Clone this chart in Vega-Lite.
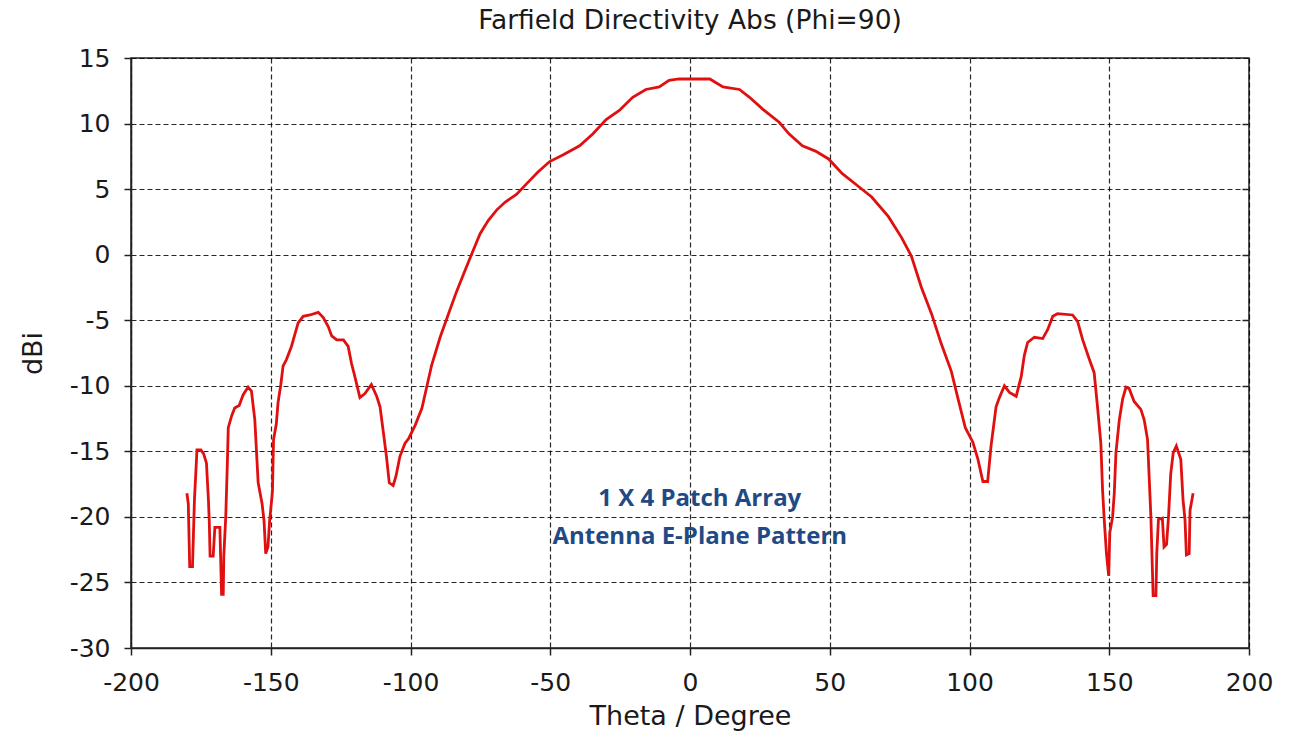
{
  "$schema": "https://vega.github.io/schema/vega-lite/v6.json",
  "width": 1118,
  "height": 590,
  "autosize": {"type": "none"},
  "padding": {"left": 131, "top": 58, "right": 40, "bottom": 88},
  "background": "white",
  "title": {
    "text": "Farfield Directivity Abs (Phi=90)",
    "font": "DejaVu Sans",
    "fontSize": 26.5,
    "fontWeight": "normal",
    "color": "#1a1a1a",
    "offset": 12,
    "anchor": "middle"
  },
  "config": {
    "view": {"stroke": "#222222", "strokeWidth": 1.5},
    "axis": {
      "labelFont": "DejaVu Sans",
      "labelFontSize": 25,
      "labelColor": "#1a1a1a",
      "titleFont": "DejaVu Sans",
      "titleFontSize": 27,
      "titleFontWeight": "normal",
      "titleColor": "#1a1a1a",
      "domainColor": "#222222",
      "domainWidth": 1.5,
      "tickColor": "#222222",
      "tickSize": 7,
      "tickWidth": 1.5,
      "gridColor": "#000000",
      "gridDash": [5, 3],
      "gridWidth": 1.2,
      "gridOpacity": 0.85,
      "labelExpr": "'' + datum.value"
    }
  },
  "resolve": {"axis": {"y": "independent"}, "scale": {"y": "shared"}},
  "datasets": {
    "pattern": [
      {"theta": -180, "dbi": -18.2}, {"theta": -179.5, "dbi": -19}, {"theta": -179, "dbi": -23.8}, {"theta": -178, "dbi": -23.8},
      {"theta": -177.3, "dbi": -18.7}, {"theta": -176.4, "dbi": -14.9}, {"theta": -175, "dbi": -14.9}, {"theta": -174, "dbi": -15.2},
      {"theta": -173, "dbi": -15.9}, {"theta": -172.3, "dbi": -18.7}, {"theta": -172, "dbi": -20.3}, {"theta": -171.7, "dbi": -23},
      {"theta": -170.6, "dbi": -23}, {"theta": -170, "dbi": -20.8}, {"theta": -168.2, "dbi": -20.8}, {"theta": -167.6, "dbi": -25.9},
      {"theta": -167, "dbi": -25.9}, {"theta": -166.8, "dbi": -23}, {"theta": -166.1, "dbi": -20}, {"theta": -165.5, "dbi": -15.7},
      {"theta": -165.2, "dbi": -13.2}, {"theta": -164, "dbi": -12.3}, {"theta": -162.9, "dbi": -11.7}, {"theta": -161.3, "dbi": -11.5},
      {"theta": -159.9, "dbi": -10.7}, {"theta": -158.1, "dbi": -10.1}, {"theta": -156.9, "dbi": -10.4}, {"theta": -155.7, "dbi": -12.6},
      {"theta": -154.5, "dbi": -17.4}, {"theta": -153.1, "dbi": -19}, {"theta": -152.4, "dbi": -20.3}, {"theta": -151.8, "dbi": -22.8},
      {"theta": -151, "dbi": -22.3}, {"theta": -150.4, "dbi": -20.3}, {"theta": -149.4, "dbi": -18.1}, {"theta": -149, "dbi": -14.1},
      {"theta": -148, "dbi": -12.9}, {"theta": -147.4, "dbi": -11.3}, {"theta": -146.4, "dbi": -9.9}, {"theta": -145.6, "dbi": -8.5},
      {"theta": -144.4, "dbi": -8}, {"theta": -142.6, "dbi": -7}, {"theta": -141.4, "dbi": -6.1}, {"theta": -140.2, "dbi": -5.2},
      {"theta": -138.4, "dbi": -4.7}, {"theta": -136, "dbi": -4.6}, {"theta": -133, "dbi": -4.4}, {"theta": -131.2, "dbi": -4.8},
      {"theta": -129.4, "dbi": -5.5}, {"theta": -128.2, "dbi": -6.2}, {"theta": -126.4, "dbi": -6.5}, {"theta": -124, "dbi": -6.5},
      {"theta": -122.3, "dbi": -7}, {"theta": -121.1, "dbi": -8.3}, {"theta": -119.9, "dbi": -9.3}, {"theta": -118.1, "dbi": -10.9},
      {"theta": -116.3, "dbi": -10.6}, {"theta": -114, "dbi": -9.9}, {"theta": -112.1, "dbi": -10.8}, {"theta": -110.9, "dbi": -11.6},
      {"theta": -109.8, "dbi": -13.4}, {"theta": -108.6, "dbi": -15.4}, {"theta": -107.6, "dbi": -17.4}, {"theta": -106.2, "dbi": -17.6},
      {"theta": -105.2, "dbi": -16.9}, {"theta": -103.8, "dbi": -15.4}, {"theta": -102, "dbi": -14.4}, {"theta": -100.6, "dbi": -14.0},
      {"theta": -98.3, "dbi": -13}, {"theta": -95.9, "dbi": -11.7}, {"theta": -94.1, "dbi": -10}, {"theta": -92.4, "dbi": -8.4},
      {"theta": -89.4, "dbi": -6.3}, {"theta": -86.4, "dbi": -4.5}, {"theta": -83.5, "dbi": -2.8}, {"theta": -80.5, "dbi": -1.2},
      {"theta": -78.1, "dbi": 0.05}, {"theta": -75.1, "dbi": 1.6}, {"theta": -72.2, "dbi": 2.6}, {"theta": -69.2, "dbi": 3.4},
      {"theta": -66.2, "dbi": 4}, {"theta": -62.1, "dbi": 4.6}, {"theta": -58.5, "dbi": 5.4}, {"theta": -54.4, "dbi": 6.3},
      {"theta": -50.2, "dbi": 7.1}, {"theta": -45.5, "dbi": 7.6}, {"theta": -39.5, "dbi": 8.3}, {"theta": -34.8, "dbi": 9.2},
      {"theta": -30, "dbi": 10.3}, {"theta": -25.3, "dbi": 11}, {"theta": -20.5, "dbi": 12}, {"theta": -15.8, "dbi": 12.6},
      {"theta": -11, "dbi": 12.8}, {"theta": -7.5, "dbi": 13.3}, {"theta": -3.9, "dbi": 13.4}, {"theta": 0, "dbi": 13.4},
      {"theta": 3.2, "dbi": 13.4}, {"theta": 7.1, "dbi": 13.4}, {"theta": 11.8, "dbi": 12.8}, {"theta": 17.7, "dbi": 12.6},
      {"theta": 21.3, "dbi": 12}, {"theta": 26, "dbi": 11.1}, {"theta": 31.9, "dbi": 10.1}, {"theta": 35.5, "dbi": 9.2},
      {"theta": 40.2, "dbi": 8.3}, {"theta": 44.9, "dbi": 7.9}, {"theta": 49.6, "dbi": 7.3}, {"theta": 54.4, "dbi": 6.2},
      {"theta": 60.3, "dbi": 5.2}, {"theta": 65, "dbi": 4.4}, {"theta": 71, "dbi": 2.9}, {"theta": 75.7, "dbi": 1.3},
      {"theta": 79.2, "dbi": -0.1}, {"theta": 82.8, "dbi": -2.5}, {"theta": 86.4, "dbi": -4.5}, {"theta": 89.9, "dbi": -6.8},
      {"theta": 93.5, "dbi": -8.9}, {"theta": 95.8, "dbi": -10.9}, {"theta": 98.5, "dbi": -13.2}, {"theta": 101.2, "dbi": -14.3},
      {"theta": 103, "dbi": -15.6}, {"theta": 104.8, "dbi": -17.3}, {"theta": 106.5, "dbi": -17.3}, {"theta": 107.7, "dbi": -14.6},
      {"theta": 109.5, "dbi": -11.6}, {"theta": 110.7, "dbi": -10.9}, {"theta": 112.5, "dbi": -10}, {"theta": 114.3, "dbi": -10.5},
      {"theta": 116.7, "dbi": -10.8}, {"theta": 118.5, "dbi": -9.3}, {"theta": 119.6, "dbi": -7.7}, {"theta": 120.8, "dbi": -6.7},
      {"theta": 123.2, "dbi": -6.3}, {"theta": 126.2, "dbi": -6.4}, {"theta": 128, "dbi": -5.7}, {"theta": 129.8, "dbi": -4.7},
      {"theta": 131.5, "dbi": -4.5}, {"theta": 136.9, "dbi": -4.6}, {"theta": 138.7, "dbi": -5.1}, {"theta": 140.5, "dbi": -6.5},
      {"theta": 142.9, "dbi": -8}, {"theta": 144.6, "dbi": -9}, {"theta": 145.8, "dbi": -11.6}, {"theta": 147, "dbi": -14.4},
      {"theta": 147.6, "dbi": -17.9}, {"theta": 148.2, "dbi": -20.2}, {"theta": 149, "dbi": -22.8}, {"theta": 149.8, "dbi": -24.5},
      {"theta": 150.2, "dbi": -21.2}, {"theta": 151.2, "dbi": -20}, {"theta": 151.8, "dbi": -18.2}, {"theta": 152.4, "dbi": -15.1},
      {"theta": 153.6, "dbi": -12.6}, {"theta": 154.8, "dbi": -11}, {"theta": 156, "dbi": -10.1}, {"theta": 157.1, "dbi": -10.2},
      {"theta": 158.9, "dbi": -11.2}, {"theta": 161.3, "dbi": -11.8}, {"theta": 162.5, "dbi": -12.6}, {"theta": 163.7, "dbi": -14.1},
      {"theta": 164.9, "dbi": -20}, {"theta": 165.7, "dbi": -26}, {"theta": 166.7, "dbi": -26}, {"theta": 167, "dbi": -22.8},
      {"theta": 167.6, "dbi": -20.2}, {"theta": 169, "dbi": -20.1}, {"theta": 169.6, "dbi": -22.3}, {"theta": 170.5, "dbi": -22.1},
      {"theta": 171.2, "dbi": -20}, {"theta": 172, "dbi": -16.7}, {"theta": 172.9, "dbi": -15.1}, {"theta": 174, "dbi": -14.6},
      {"theta": 175.6, "dbi": -15.6}, {"theta": 176.4, "dbi": -18.7}, {"theta": 177.1, "dbi": -20.2}, {"theta": 177.6, "dbi": -22.9},
      {"theta": 178.6, "dbi": -22.8}, {"theta": 178.9, "dbi": -19.5}, {"theta": 180, "dbi": -18.2}
    ],
    "notes": [
      {"theta": 3.5, "dbi": -18.6, "label": "1 X 4 Patch Array"},
      {"theta": 3.5, "dbi": -21.5, "label": "Antenna E-Plane Pattern"}
    ]
  },
  "layer": [
    {
      "data": {"name": "pattern"},
      "mark": {"type": "line", "color": "#e01010", "strokeWidth": 2.8, "interpolate": "linear"},
      "encoding": {
        "x": {
          "field": "theta", "type": "quantitative",
          "scale": {"domain": [-200, 200], "nice": false, "zero": false},
          "axis": {"title": "Theta / Degree", "values": [-200, -150, -100, -50, 0, 50, 100, 150, 200], "labelPadding": 15, "titlePadding": 8, "labelFlush": false}
        },
        "y": {
          "field": "dbi", "type": "quantitative",
          "scale": {"domain": [-30, 15], "nice": false, "zero": false},
          "axis": {"title": "dBi", "values": [-30, -25, -20, -15, -10, -5, 0, 5, 10, 15], "labelPadding": 14, "titlePadding": 22, "labelFlush": false}
        }
      }
    },
    {
      "data": {"name": "notes"},
      "mark": {"type": "text", "font": "Open Sans", "fontWeight": "bold", "fontSize": 24, "color": "#1f4a85", "align": "center", "baseline": "middle"},
      "encoding": {
        "x": {"field": "theta", "type": "quantitative"},
        "y": {
          "field": "dbi", "type": "quantitative",
          "axis": {"orient": "right", "values": [-25, -20, -15, -10, -5, 0, 5, 10], "labels": false, "domain": false, "grid": false, "title": null, "tickSize": -7, "ticks": true}
        },
        "text": {"field": "label"}
      }
    }
  ]
}
